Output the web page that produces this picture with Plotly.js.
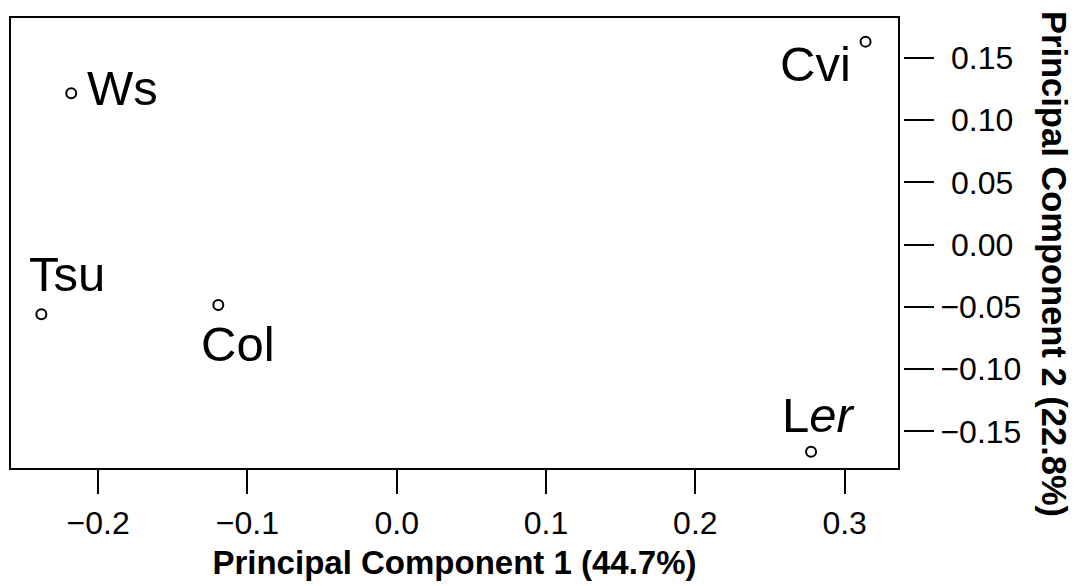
<!DOCTYPE html>
<html>
<head>
<meta charset="utf-8">
<script src="https://cdn.plot.ly/plotly-3.0.1.min.js"></script>
<style>html,body{margin:0;padding:0;background:#fff;}#chart{width:1076px;height:586px;}</style>
</head>
<body>
<div id="chart"></div>
<script>
// Data
const accessions = ["Ws", "Tsu", "Col", "Cvi", "L<i>er</i>"];
const pc1 = [-0.218, -0.238, -0.1195, 0.314, 0.2775];
const pc2 = [0.1217, -0.0559, -0.0485, 0.1632, -0.1664];

const xTickVals = [-0.2, -0.1, 0.0, 0.1, 0.2, 0.3];
const xTickText = ["\u22120.2", "\u22120.1", "0.0", "0.1", "0.2", "0.3"];
const yTickVals = [0.15, 0.10, 0.05, 0.00, -0.05, -0.10, -0.15];
const yTickText = ["\u20040.15", "\u20040.10", "\u20040.05", "\u20040.00", "\u22120.05", "\u22120.10", "\u22120.15"];

const xTitle = "Principal Component 1 (44.7%)";
const yTitle = "Principal Component 2 (22.8%)";

// label placement styles (pixel offsets relative to each point)
const labelStyle = [
  {xanchor: "left",  yanchor: "middle", xshift: 14,  yshift: 5},
  {xanchor: "left",  yanchor: "bottom", xshift: -14, yshift: 11},
  {xanchor: "left",  yanchor: "top",    xshift: -19, yshift: -10},
  {xanchor: "right", yanchor: "top",    xshift: -13, yshift: 7},
  {xanchor: "left",  yanchor: "bottom", xshift: -31, yshift: 8}
];

const FONT = "Liberation Sans, Arial, sans-serif";

const trace = {
  type: "scatter",
  mode: "markers",
  x: pc1,
  y: pc2,
  marker: {symbol: "circle-open", size: 10, color: "#000", line: {width: 2, color: "#000"}},
  hoverinfo: "skip",
  showlegend: false
};

const annotations = accessions.map((t, i) => Object.assign({
  x: pc1[i], y: pc2[i], xref: "x", yref: "y", text: t, showarrow: false,
  font: {family: FONT, size: 49, color: "#000"}
}, labelStyle[i]));

annotations.push({
  xref: "paper", yref: "paper", x: 1, y: 0.5,
  xanchor: "center", yanchor: "middle", xshift: 151, yshift: -21,
  text: "<b>" + yTitle + "</b>", textangle: 90, showarrow: false,
  font: {family: FONT, size: 34.5, color: "#000"}
});

const layout = {
  width: 1076, height: 586,
  margin: {l: 10, r: 173, t: 17, b: 117, pad: 0},
  paper_bgcolor: "#fff", plot_bgcolor: "#fff",
  font: {family: FONT, color: "#000"},
  showlegend: false,
  xaxis: {
    domain: [0, 0.99552],
    range: [-0.259, 0.3364],
    tickvals: xTickVals, ticktext: xTickText,
    ticks: "outside", ticklen: 24, tickwidth: 2, tickcolor: "#000",
    ticklabelstandoff: 2,
    tickfont: {family: FONT, size: 32, color: "#000"},
    showgrid: false, zeroline: false, showline: false,
    title: {text: "<b>" + xTitle + "</b>", font: {family: FONT, size: 33, color: "#000"}, standoff: 10}
  },
  yaxis: {
    range: [-0.1803, 0.1830],
    side: "right", anchor: "free", position: 1,
    tickvals: yTickVals, ticktext: yTickText,
    ticks: "outside", ticklen: 30, tickwidth: 2, tickcolor: "#000",
    ticklabelstandoff: 0,
    tickfont: {family: FONT, size: 32, color: "#000"},
    showgrid: false, zeroline: false, showline: false
  },
  shapes: [{
    type: "rect", xref: "x domain", yref: "y domain", x0: 0, x1: 1, y0: 0, y1: 1,
    line: {color: "#000", width: 2}, fillcolor: "rgba(0,0,0,0)", layer: "above"
  }],
  annotations: annotations
};

Plotly.newPlot("chart", [trace], layout, {displayModeBar: false, staticPlot: true});
</script>
</body>
</html>
